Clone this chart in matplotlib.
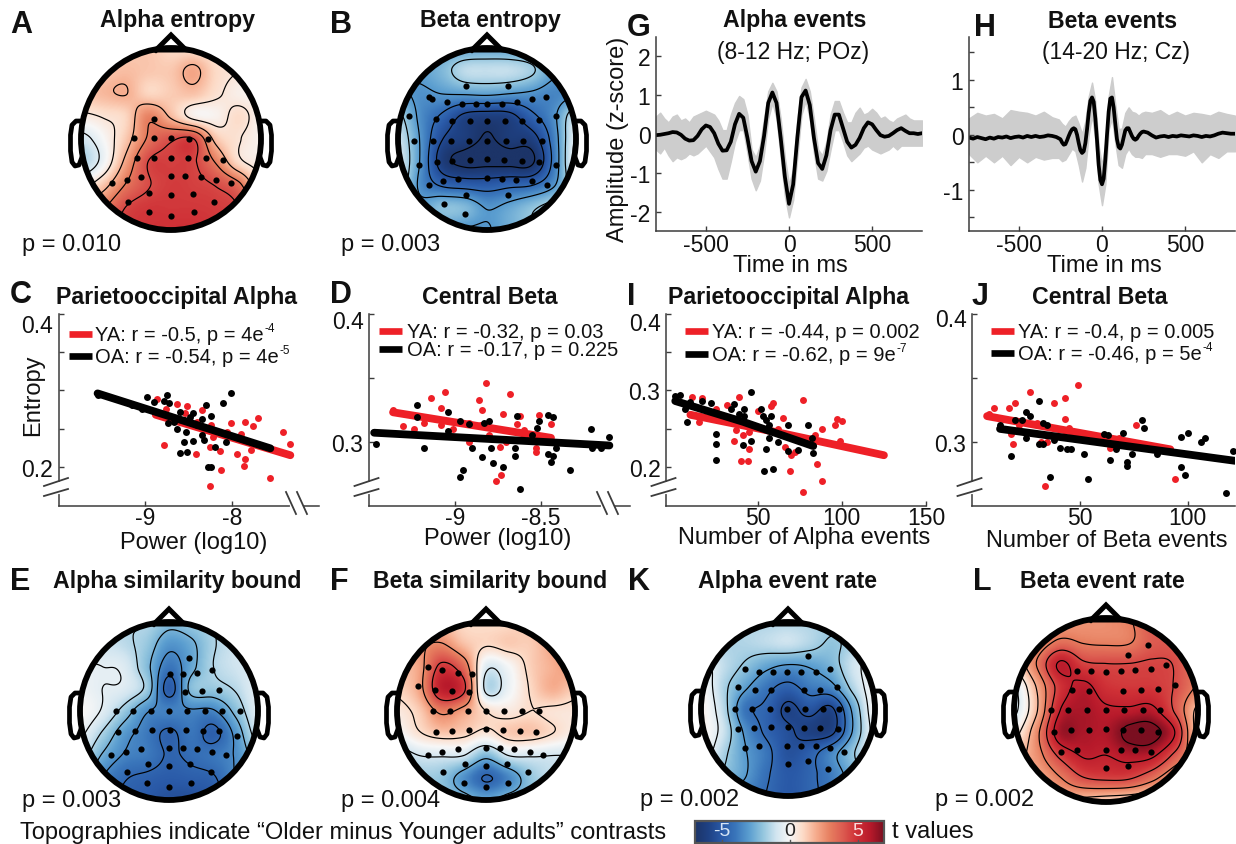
import numpy as np
import matplotlib
matplotlib.use('Agg')
import matplotlib.pyplot as plt
from matplotlib.colors import LinearSegmentedColormap
from matplotlib.patches import Ellipse, Rectangle
from matplotlib.transforms import ScaledTranslation

plt.rcParams['font.family'] = ['Liberation Sans', 'DejaVu Sans']

W, H = 1236, 845

#####################
# t value maps, 9x9, front row first, left to right
#####################
map_a = [[1.3, 1.3, 1.3, 1.4, 1.0, .9, .7, .5, .4],
         [1.2, 1.4, 1.6, 1.4, 1.4, 2.1, 1.0, .6, .3],
         [1.4, 1.7, 1.9, 1.1, 1.3, 1.5, .8, .3, .2],
         [.4, .7, 1.1, 2.9, 1.7, .3, .2, .9, .2],
         [-1, 0, 1.4, 3.3, 4.2, 4.4, 1.5, .7, .2],
         [-1.6, -.2, 2.2, 4.4, 4.6, 4.5, 3, .9, .3],
         [.2, 1.4, 3.2, 4.3, 4.7, 4.6, 4.3, 3.4, .9],
         [2, 3, 4.4, 4.8, 4.8, 4.8, 4.7, 4.4, 3],
         [3, 4, 4.7, 4.9, 5, 5, 4.8, 4.4, 3]]
map_b = [[-3, -3, -2.9, -2.8, -2.7, -2.8, -2.9, -3, -3],
         [-3, -2.9, -2.3, -1.3, -1.2, -1.2, -1.7, -2.9, -3],
         [-2.9, -3.3, -3.1, -3.0, -2.9, -3.1, -3.3, -3.6, -3.3],
         [-1.6, -3.4, -4.6, -5.9, -6.2, -6.0, -4.7, -3.4, -1],
         [-1, -3.2, -5.6, -6.3, -7.0, -6.4, -6.2, -3.8, -.5],
         [-.8, -3.2, -6.3, -7.2, -7.2, -7.2, -7.1, -4.0, -.3],
         [-1, -3.4, -4.6, -4.9, -5.0, -4.7, -4.5, -3.3, -1],
         [-2, -2.8, -2.1, -2.3, -3.2, -2.8, -2.1, -1.4, -1],
         [-3, -3, -3, -3.2, -3.2, -2.6, -2, -1.4, -1]]
map_e = [[-1.3, -1.4, -1.5, -1.5, -2.2, -1.9, -1.5, -1, -.8],
         [-1, -1, -1.3, -1.9, -3.2, -2.7, -1.6, -1, -.7],
         [-.4, -.5, -.7, -2.2, -4.0, -2.8, -1.5, -1, -.7],
         [-.2, -.5, -.7, -1.8, -4.9, -2.2, -1.9, -1.4, -.5],
         [.1, -.6, -1.9, -3.4, -3.7, -3.6, -3.6, -2.2, -.6],
         [-.3, -1.6, -3.1, -3.9, -4.7, -4.0, -4.8, -3.2, -1],
         [-1, -2.6, -3.6, -3.9, -4.6, -4.3, -4.0, -3.4, -2],
         [-2, -3.5, -4.4, -4.7, -4.9, -4.8, -4.6, -3.5, -3],
         [-3, -4, -4.7, -5, -5.4, -5.4, -5, -4, -3]]
map_f = [[1.5, 1.8, 1.6, 1, .9, 1, 1.5, 2.4, 2.9],
         [1.6, 2.4, 2.8, 1.6, 1, 1.3, 1.3, 2.2, 3],
         [1.5, 2.2, 4.8, 3.5, -.6, -.1, 1.2, 1.9, 2.5],
         [1.1, 2.2, 5.7, 4.8, -1.2, -.3, 1.0, 1.9, 1.3],
         [.5, 1.3, 3, 2.2, .9, .5, .9, .7, .6],
         [-.1, .8, 1.4, 1.2, .6, 1.3, 1.4, .9, .3],
         [-1.5, -.9, -.8, -.9, -2.3, -.9, -.8, -.9, -.9],
         [-2, -1.8, -2, -3.3, -4.6, -3.6, -2, -1.2, -1.2],
         [-2, -2, -2, -2.3, -2.9, -2.3, -2, -1.5, -1.5]]
map_k = [[-1.5, -1.5, -1.5, -1.5, -1.4, -1.5, -1.7, -1.5, -.5],
         [-1, -1.5, -1.5, -1.3, -1.1, -1.5, -2, -1.5, -.5],
         [-.2, -1.2, -2, -2.8, -3.2, -3.0, -2.4, -1, -.2],
         [.2, -1.5, -2.9, -4.0, -4.7, -3.9, -3.5, -1.5, 0],
         [.3, -1.3, -4.0, -4.6, -5.9, -5.2, -5.8, -2.8, .1],
         [.3, -1, -3.3, -4.6, -5.4, -6.1, -6, -3, -.2],
         [.1, -1.5, -3, -4.0, -5.3, -4.8, -3.6, -2, -.2],
         [-1, -2, -3, -4.2, -5, -4.6, -3.8, -2.5, -1],
         [-2, -3, -3.7, -4.4, -5, -4.6, -4.0, -3, -2]]
map_l = [[2, 2, 2.2, 2.5, 2.6, 3, 4, 3.6, 3],
         [1.5, 2.2, 3.3, 3, 2.9, 3.0, 3.9, 3.9, 3.2],
         [1, 3.2, 5.8, 4.6, 4.4, 4.4, 4.5, 4.3, 3.1],
         [-.7, 2, 4.9, 5.9, 5.0, 4.8, 4.8, 4.3, 3],
         [-.9, 1.8, 5.6, 6.2, 5.8, 5.8, 5.9, 4.2, 1.6],
         [.2, 2.8, 6.3, 6.2, 6.1, 7.2, 7.3, 5.6, 1.4],
         [1.4, 2.6, 4.6, 5.7, 5.6, 6, 5.8, 4, 2],
         [2, 2, 3, 4.2, 4.5, 4.4, 3.4, 2, 1.2],
         [2, 2, 2, 1.5, 1.2, 1, .8, .8, 1]]

#####################
# significant electrodes, percent of head radius
#####################
elec_a = [(-19, 22), (-41, 1), (-19, 1), (0, 1), (20, 0), (41, 0), (-38, -21), (-19, -21), (0, -21), (19, -21),
          (39, -21), (58, -23), (-66, -48), (-49, -45), (-33, -42), (0, -41), (16, -41), (33, -42), (50, -45),
          (67, -48), (-24, -59), (0, -61), (24, -60), (-48, -69), (48, -69), (-25, -80), (0, -85), (26, -80)]
elec_b = [(-24, 58), (24, 58), (-65, 46), (-62, 44), (-45, 41), (-28, 39), (-12, 39), (0, 39), (17, 39), (34, 41),
          (50, 44), (66, 46), (-88, 25), (-57, 22), (-39, 20), (-19, 20), (0, 20), (20, 20), (39, 20), (58, 21),
          (78, 25), (-82, -2), (-61, -2), (-40, -2), (-20, -2), (0, -2), (21, -2), (41, -2), (62, -2), (-56, -25),
          (-39, -24), (-19, -23), (0, -22), (19, -23), (39, -24), (58, -25), (78, -29), (-76, -29), (-65, -50),
          (-50, -46), (-33, -44), (0, -43), (17, -44), (33, -45), (50, -46), (67, -50), (-24, -61), (24, -61),
          (-48, -71), (-25, -82)]
elec_e = [(23, 60), (1, 42), (16, 42), (32, 43), (48, 46), (18, 21), (37, 22), (56, 24), (-60, 0), (-40, 0), (-20, 0),
          (0, 0), (20, 0), (40, 0), (60, 0), (80, 0), (-57, -24), (-38, -22), (-19, -21), (1, -21), (19, -21),
          (38, -22), (56, -23), (76, -28), (-65, -49), (-48, -46), (-32, -43), (0, -42), (16, -42), (32, -43),
          (48, -46), (64, -49), (-24, -60), (0, -62), (24, -60), (-47, -69), (47, -69), (-25, -81), (0, -85), (25, -81)]
elec_f = [(-65, 49), (-49, 46), (-32, 43), (-16, 42), (-76, 28), (-57, 24), (-38, 22), (-19, 21), (-60, 0), (-41, 0),
          (-20, 0), (0, 0), (20, 0), (40, 0), (60, 0), (-56, -24), (-38, -22), (-19, -21), (0, -20), (19, -21),
          (38, -22), (56, -24), (-65, -49), (-49, -46), (-32, -43), (0, -42), (16, -42), (32, -43), (49, -46),
          (64, -49), (-24, -60), (0, -62), (24, -60), (-48, -69), (47, -69), (-25, -81), (0, -85), (25, -81)]
elec_k = [(23, 61), (-49, 46), (-33, 43), (-17, 42), (-1, 42), (15, 42), (32, 43), (48, 46), (-58, 25), (-38, 22),
          (-19, 22), (18, 22), (37, 22), (56, 25), (-61, 0), (-41, 0), (-21, 0), (-1, 0), (19, 0), (40, 0), (59, 0),
          (-58, -23), (-39, -22), (-19, -21), (0, -21), (18, -22), (37, -22), (57, -23), (-50, -45), (-33, -43),
          (-1, -42), (15, -43), (32, -43), (48, -45), (64, -49), (0, -63), (23, -60), (46, -69)]
elec_l = [(46, 71), (24, 60), (-32, 42), (-16, 42), (0, 41), (16, 42), (32, 43), (49, 45), (65, 49), (-37, 22),
          (-19, 21), (19, 21), (38, 22), (57, 23), (75, 27), (-60, 0), (-41, 0), (-21, 0), (0, 0), (20, 0), (40, 0),
          (59, 0), (-57, -24), (-38, -22), (-19, -22), (0, -21), (18, -22), (38, -22), (56, -24), (-49, -46),
          (-32, -44), (0, -43), (16, -43), (32, -44), (49, -46), (0, -63), (24, -61)]

#####################
# event waveforms
#####################
g_time = np.arange(-800, 801, 25)
g_mean = [-.03, -.02, 0, .02, .05, .04, -.02, -.12, -.17, -.16, -.05, .12, .22, .18, .02, -.25, -.43, -.42, -.2, .25,
          .52, .42, -.1, -.7, -.97, -.7, -.05, .8, 1.07, .8, -.1, -1.1, -1.8, -1.3, -.1, .95, 1.12, .75, -.1, -.75,
          -.9, -.55, .1, .5, .5, .15, -.2, -.35, -.28, -.1, .15, .3, .25, .1, -.03, -.07, -.05, .02, .1, .15,
          .08, .02, .02, 0, .02]
g_upper = [.45, .55, .4, .3, .45, .5, .35, .4, .3, .45, .5, .55, .6, .55, .5, .35, .1, .1, .5, .8,
           .98, .9, .5, -.4, -.6, -.3, .4, 1.1, 1.32, 1.1, .4, -.6, -1.3, -.9, .4, 1.2, 1.42, 1.1, .4, -.4,
           -.55, -.2, .5, .85, .85, .55, .3, .3, .55, .68, .5, .55, .65, .55, .4, .45, .35, .3, .4, .45,
           .5, .4, .35, .35, .35]
g_lower = [-.4, -.5, -.35, -.55, -.7, -.6, -.65, -.6, -.5, -.55, -.5, -.4, -.3, -.45, -.6, -.9, -1.15, -1.15, -.7, -.2,
           .1, .1, -.5, -1.15, -1.45, -1.2, -.5, .4, .8, .4, -.6, -1.6, -2.15, -1.7, -.6, .5, .85, .4, -.5, -1.15,
           -1.2, -.95, -.4, .1, .1, -.2, -.55, -.7, -.6, -.5, -.35, -.3, -.4, -.45, -.5, -.45, -.4, -.3, -.4, -.3,
           -.3, -.3, -.3, -.3, -.3]

h_time = np.r_[np.arange(-800, -274, 25), np.arange(-250, 251, 10), np.arange(275, 801, 25)]
h_mean = [-.05, -.07, -.04, -.06, -.08, -.05, -.07, -.04, -.05, -.03, -.06, -.04, -.03, -.05, -.02, -.04, -.02, -.04,
          -.03, -.01, -.02, -.04,
          -.08, -.14, -.18, -.17, -.1, -.02, .05, .1, .12, .1, 0, -.15, -.28, -.33, -.3, -.15, .1, .4, .62, .68, .6,
          .3, -.1, -.55, -.82, -.9, -.8, -.45, 0, .42, .66, .68, .5, .2, -.08, -.22, -.25, -.18, -.05, .08, .12, .12,
          .05, -.02, -.07, -.09, -.07, -.02, .02, .05, .06,
          .04, -.01, -.05, -.03, -.02, -.04, -.02, -.03, -.01, -.02, -.03, -.01, -.02, -.04, -.02, -.03, -.01, .02,
          .04, .03, .02, .02]
h_band_time = np.r_[np.arange(-800, -299, 50), np.arange(-260, 261, 20), np.arange(300, 801, 50)]
h_upper = [.3, .4, .35, .38, .3, .45, .42, .4, .35, .42, .32,
           .28, .2, .15, .25, .32, .35, .2, .02, .25, .7, .95, .6, -.2, -.55, -.15, .7, 1.05, .55, .1, .12, .4, .5,
           .42, .4, .35, .4, .42,
           .4, .45, .35, .42, .35, .4, .38, .35, .42, .38, .35]
h_lower = [-.35, -.5, -.38, -.5, -.38, -.55, -.4, -.5, -.4, -.45, -.42,
           -.42, -.48, -.45, -.35, -.25, -.3, -.55, -.85, -.6, 0, .35, -.1, -.9, -1.28, -.9, .1, .3, -.15, -.55, -.6,
           -.35, -.25, -.35, -.4, -.4, -.42, -.35,
           -.35, -.4, -.35, -.35, -.38, -.3, -.5, -.35, -.42, -.3, -.3]

#####################
# scatter panels
#####################
c_ya_x = [-8.87, -8.78, -8.63, -8.52, -8.35, -8.42, -8.13, -8.25, -8.01, -7.85, -7.7, -7.76, -7.9, -8.06, -8.22, -8.14,
          -7.95, -7.85, -7.86, -7.78, -7.56, -7.41, -7.33, -8.4, -8.54, -7.95, -8.26, -8.67, -8.76, -8.24]
c_ya_y = [.289, .229, .282, .279, .274, .217, .196, .175, .257, .259, .264, .253, .243, .246, .239, .221,
          .216, .21, .201, .222, .185, .246, .23, .259, .27, .237, .226, .263, .276, .254]
c_oa_x = [-9.55, -9.15, -9.04, -8.98, -8.9, -8.75, -8.79, -8.73, -8.01, -8.11, -8.3, -8.45, -8.24, -8.56, -8.63, -8.53,
          -8.45, -8.55, -8.6, -8.52, -8.28, -8.24, -8.35, -8.33, -8.2, -8.07, -8.74, -8.67, -8.4, -8.49, -8.35, -8.6]
c_oa_y = [.294, .281, .276, .291, .285, .294, .286, .283, .297, .283, .281, .27, .267, .261, .25, .245,
          .233, .232, .218, .219, .199, .199, .241, .235, .226, .232, .257, .259, .254, .265, .263, .272]
c_ya_fit_x = [-8.88, -7.33]
c_ya_fit_y = [.268, .215]
c_oa_fit_x = [-9.55, -7.56]
c_oa_fit_y = [.296, .224]

d_ya_x = [-9.36, -9.3, -9.24, -9.14, -9.06, -9.08, -9.18, -9.08, -9.01, -8.82, -8.86, -8.84, -8.68, -8.72, -8.92, -8.92,
          -8.64, -8.62, -8.51, -8.44, -8.74, -8.72, -8.7, -8.73, -8.76, -8.53, -8.53, -8.85, -8.8, -8.6]
d_ya_y = [.325, .312, .31, .334, .339, .326, .315, .313, .31, .346, .333, .325, .337, .322, .3, .315,
          .314, .32, .321, .314, .296, .302, .3, .274, .269, .292, .295, .313, .305, .309]
d_oa_x = [-9.46, -9.22, -9.22, -9.18, -9.04, -9.04, -8.97, -8.92, -8.9, -8.97, -8.95, -8.84, -8.78, -8.72, -8.79, -8.83,
          -8.8, -8.65, -8.65, -8.64, -8.62, -8.55, -8.51, -8.46, -8.43, -8.46, -8.43, -8.44, -8.41, -8.33, -8.21, -8.1,
          -8.2, -8.15, -8.52]
d_oa_y = [.298, .329, .319, .295, .323, .308, .316, .314, .295, .272, .278, .288, .283, .28, .295, .315,
          .316, .295, .289, .32, .263, .305, .316, .321, .319, .29, .289, .284, .295, .278, .31, .304,
          .295, .295, .311]
d_ya_fit_x = [-9.36, -8.44]
d_ya_fit_y = [.323, .303]
d_oa_fit_x = [-9.47, -8.1]
d_oa_fit_y = [.307, .297]

i_ya_x = [11, 17, 32, 39, 25, 36, 37, 41, 45, 45, 40, 44, 50, 58, 59, 62, 65, 66, 70, 69, 77, 77, 85, 88, 88, 96, 97,
          100, 99, 84, 72, 15]
i_ya_y = [.291, .29, .281, .291, .276, .234, .248, .241, .246, .223, .207, .208, .273, .279, .283, .25, .264, .226,
          .215, .195, .287, .167, .204, .181, .25, .255, .262, .26, .233, .241, .219, .259]
i_oa_x = [1, 4, 7, 8, 10, 17, 22, 25, 25, 25, 34, 36, 42, 39, 42, 46, 46, 41, 52, 53, 55, 58, 57, 57, 55, 54, 59, 62,
          68, 68, 74, 80, 82, 83]
i_oa_y = [.293, .294, .276, .258, .285, .286, .284, .243, .23, .209, .276, .282, .275, .269, .267, .298, .233, .228,
          .276, .266, .261, .267, .254, .238, .223, .195, .197, .232, .221, .254, .222, .255, .238, .218]
i_ya_fit_x = [10, 66, 125]
i_ya_fit_y = [.268, .243, .215]
i_oa_fit_x = [1, 41, 83]
i_oa_fit_y = [.286, .259, .227]

j_ya_x = [8, 10, 17, 20, 27, 43, 49, 38, 43, 19, 18, 22, 32, 35, 34, 76, 94, 64, 68, 45, 30]
j_ya_y = [.322, .326, .326, .33, .339, .334, .344, .33, .318, .298, .306, .313, .3, .3, .265, .313, .271, .295, .303,
          .311, .315]
j_oa_x = [13, 18, 20, 23, 25, 27, 31, 25, 31, 33, 33, 35, 36, 38, 41, 44, 46, 52, 54, 61, 63, 64, 67, 70, 72, 72, 74,
          79, 80, 86, 97, 97, 99, 100, 106, 108, 118, 121]
j_oa_y = [.313, .289, .317, .317, .323, .32, .332, .303, .298, .315, .298, .313, .272, .301, .295, .294, .294, .29,
          .271, .306, .305, .286, .294, .307, .284, .281, .29, .317, .311, .29, .304, .28, .274, .307, .3, .303, .26,
          .293]
j_ya_fit_x = [7, 92]
j_ya_fit_y = [.32, .294]
j_oa_fit_x = [13, 122]
j_oa_fit_y = [.31, .285]

colorbar_ticks = [-5, 0, 5]

RED = '#ee2027'
TXT = '#111111'
AX = '#3c3c3c'
LEVELS_STD = np.arange(-6.875, 7, 1.25)
LEVELS_E = [-4.5, -3.5, -2.5, -1.5, -.5]
LEVELS_F = np.arange(-4.5, 5, 1.8)

tcmap = LinearSegmentedColormap.from_list('tvals', [
    (0 / 14, '#1c3468'), (1 / 14, '#1f4285'), (2 / 14, '#2a5aa8'), (3 / 14, '#3a76bb'), (4 / 14, '#5b9ed0'),
    (5 / 14, '#92c5de'), (6 / 14, '#d1e5f0'), (7 / 14, '#f7f7f7'), (8 / 14, '#fddbc7'), (9 / 14, '#f6ab8c'),
    (10 / 14, '#e77f60'), (11 / 14, '#dc5a50'), (12 / 14, '#cf3036'), (13 / 14, '#b81a2b'), (14 / 14, '#7a0f20')])

fig = plt.figure(figsize=(W / 100, H / 100), dpi=100)


def new_axes(left, top, right, bottom, xpad=0):
    ax = fig.add_axes([left / W, 1 - bottom / H, (right - left) / W, (bottom - top) / H])
    ax.patch.set_alpha(0)
    for s in ['top', 'right']:
        ax.spines[s].set_visible(False)
    for s in ['left', 'bottom']:
        ax.spines[s].set_color(AX)
        ax.spines[s].set_linewidth(1.1)
    ax.tick_params(direction='in', length=3.5, width=1, color=AX, labelsize=16.5, labelcolor=TXT, pad=4)
    ax.tick_params(axis='x', pad=xpad)
    return ax


def upsample(grid, n=220):
    # catmull-rom weights, no scipy here
    grid = np.asarray(grid, float)

    def weights(size):
        u = np.linspace(0, size - 1, n)
        i = np.clip(np.floor(u).astype(int), 0, size - 2)
        t = u - i
        out = np.zeros((n, size))
        w = [-.5 * t**3 + t**2 - .5 * t, 1.5 * t**3 - 2.5 * t**2 + 1, -1.5 * t**3 + 2 * t**2 + .5 * t, .5 * t**3 - .5 * t**2]
        for k in range(4):
            np.add.at(out, (np.arange(n), np.clip(i + k - 1, 0, size - 1)), w[k])
        return out

    return weights(grid.shape[0]) @ grid @ weights(grid.shape[1]).T


def topo(ax, grid, elec, cx, cy, rx, ry, levels=LEVELS_STD):
    z = upsample(grid)
    clip = Ellipse((cx, cy), 2 * rx, 2 * ry, fc='none', ec='none')
    ax.add_patch(clip)
    im = ax.imshow(z, extent=(cx - rx, cx + rx, cy + ry, cy - ry), cmap=tcmap, vmin=-7, vmax=7, aspect='auto',
                   interpolation='bilinear', zorder=1)
    im.set_clip_path(clip)
    xx = np.linspace(cx - rx, cx + rx, z.shape[1])
    yy = np.linspace(cy - ry, cy + ry, z.shape[0])
    cs = ax.contour(xx, yy, z, levels=levels, colors='k', linewidths=0.85, negative_linestyles='solid', zorder=2)
    cs.set_clip_path(clip)
    ex = [cx + p[0] / 100 * rx for p in elec]
    ey = [cy - p[1] / 100 * ry for p in elec]
    ax.scatter(ex, ey, s=20, color='k', lw=0, zorder=3)
    ax.add_patch(Ellipse((cx, cy), 2 * rx, 2 * ry, fc='none', ec='k', lw=4.2, zorder=4))
    # nose and ears
    ax.plot([cx - 15, cx, cx + 15, cx - 15], [cy - ry + 2, cy - ry - 13, cy - ry + 2, cy - ry + 2], color='k', lw=3.6,
            solid_joinstyle='miter', zorder=3.5)
    for sgn in [-1, 1]:
        ax.plot(cx + sgn * np.array([rx - 1, rx + 5, rx + 9, rx + 10.5, rx + 10.5, rx + 9, rx + 6, rx + 2, rx - 1]),
                cy + np.array([-18, -18, -14, -4, 12, 23, 27, 26, 18]), color='k', lw=3.4,
                solid_joinstyle='round', zorder=3.5)


def scatter_panel(ax, ya_x, ya_y, oa_x, oa_y, ya_fx, ya_fy, oa_fx, oa_fy):
    ax.scatter(ya_x, ya_y, s=25, color=RED, lw=0, zorder=2, clip_on=False)
    ax.plot(ya_fx, ya_fy, color=RED, lw=5.6, solid_capstyle='round', zorder=3)
    ax.scatter(oa_x, oa_y, s=25, color='k', lw=0, zorder=4, clip_on=False)
    ax.plot(oa_fx, oa_fy, color='k', lw=5.6, solid_capstyle='round', zorder=5)


def shift_top_ylabel(ax, dy):
    off = ScaledTranslation(0, -dy / 100, fig.dpi_scale_trans)
    lab = ax.get_yticklabels()[-1]
    lab.set_transform(lab.get_transform() + off)


#####################
# waveforms
#####################
ax_g = new_axes(656, 38, 922, 232, xpad=1.5)
ax_g.fill_between(g_time, g_lower, g_upper, color='#cdcdcd', lw=1)
ax_g.plot(g_time, g_mean, color='k', lw=2.7)
ax_g.set_xlim(-800, 800)
ax_g.set_ylim(-2.5, 2.5)
ax_g.set_xticks([-500, 0, 500], ['-500', '0', '500'])
ax_g.set_yticks([-2, -1, 0, 1, 2], ['-2', '-1', '0', '1', '2'])

ax_h = new_axes(969, 38, 1235, 232, xpad=1.5)
ax_h.fill_between(h_band_time, h_lower, h_upper, color='#cdcdcd', lw=1)
ax_h.plot(h_time, h_mean, color='k', lw=2.7)
ax_h.set_xlim(-800, 800)
ax_h.set_ylim(-1.75, 1.78)
ax_h.set_xticks([-500, 0, 500], ['-500', '0', '500'])
ax_h.set_yticks([-1.5, -1, -.5, 0, .5, 1, 1.5], ['', '-1', '', '0', '', '1', ''])

#####################
# scatters
#####################
ax_c = new_axes(58.5, 315, 319, 507)
scatter_panel(ax_c, c_ya_x, c_ya_y, c_oa_x, c_oa_y, c_ya_fit_x, c_ya_fit_y, c_oa_fit_x, c_oa_fit_y)
ax_c.set_xlim(-10, -7)
ax_c.set_ylim(.1485, .4)
ax_c.set_xticks([-9, -8], ['-9', '-8'])
ax_c.set_yticks([.2, .25, .3, .35, .4], ['0.2', '', '', '', '0.4'])
shift_top_ylabel(ax_c, 9)

ax_d = new_axes(369, 315, 630, 507)
scatter_panel(ax_d, d_ya_x, d_ya_y, d_oa_x, d_oa_y, d_ya_fit_x, d_ya_fit_y, d_oa_fit_x, d_oa_fit_y)
ax_d.set_xlim(-9.5, -7.98)
ax_d.set_ylim(.2496, .4)
ax_d.set_xticks([-9, -8.5], ['-9', '-8.5'])
ax_d.set_yticks([.3, .35, .4], ['0.3', '', '0.4'])
shift_top_ylabel(ax_d, 5)

ax_i = new_axes(666, 315, 926, 507)
scatter_panel(ax_i, i_ya_x, i_ya_y, i_oa_x, i_oa_y, i_ya_fit_x, i_ya_fit_y, i_oa_fit_x, i_oa_fit_y)
ax_i.set_xlim(-4.5, 150)
ax_i.set_ylim(.1485, .4)
ax_i.set_xticks([50, 100, 150])
ax_i.set_yticks([.2, .25, .3, .35, .4], ['0.2', '', '0.3', '', '0.4'])
shift_top_ylabel(ax_i, 7)

ax_j = new_axes(972, 315, 1235, 507)
scatter_panel(ax_j, j_ya_x, j_ya_y, j_oa_x, j_oa_y, j_ya_fit_x, j_ya_fit_y, j_oa_fit_x, j_oa_fit_y)
ax_j.set_xlim(0, 122)
ax_j.set_ylim(.2496, .4)
ax_j.set_xticks([50, 100])
ax_j.set_yticks([.3, .35, .4], ['0.3', '', '0.4'])
shift_top_ylabel(ax_j, 3)

#####################
# overlay in picture pixels: heads, text, axis breaks
#####################
ov = fig.add_axes([0, 0, 1, 1], zorder=10)
ov.axis('off')

topo(ov, map_a, elec_a, 171, 140, 90, 91)
topo(ov, map_b, elec_b, 487, 140, 89, 91)
topo(ov, map_e, elec_e, 169, 712, 89, 89, levels=LEVELS_E)
topo(ov, map_f, elec_f, 486, 712, 89, 89, levels=LEVELS_F)
topo(ov, map_k, elec_k, 788, 710, 87, 87)
topo(ov, map_l, elec_l, 1106, 711, 92, 92)

# colour bar
cb_vals = np.linspace(-7, 7, 256)[None, :]
ov.imshow(cb_vals, extent=(695, 884, 844, 822), cmap=tcmap, vmin=-7, vmax=7, aspect='auto', zorder=1)
ov.add_patch(Rectangle((695, 822), 189, 22, fc='none', ec='#555555', lw=1.6, zorder=2))
for v, col in zip(colorbar_ticks, ['#d5e4f5', '#222222', '#fbdcdc']):
    xp = 790 + v * 13.6
    ov.text(xp, 832, str(v), color=col, fontsize=14, ha='center', va='center', zorder=3)
    ov.plot([xp, xp], [844, 841], color='#555555', lw=1, zorder=3)

ov.set_xlim(0, W)
ov.set_ylim(H, 0)


def label(x, y, s, size=17, ha='center', weight='normal', **kw):
    return ov.text(x, y, s, fontsize=size, ha=ha, va='center', color=TXT, fontweight=weight, **kw)


for s, x, y in [('A', 10, 25), ('B', 330, 25), ('G', 627, 28), ('H', 974, 28),
                ('C', 10, 295), ('D', 330, 295), ('I', 627, 297), ('J', 972, 297),
                ('E', 10, 582), ('F', 330, 582), ('K', 628, 582), ('L', 973, 582)]:
    label(x, y, s, size=22, ha='left', weight='bold')

for s, x, y in [('Alpha entropy', 177, 21), ('Beta entropy', 490, 21), ('Alpha events', 795, 21),
                ('Beta events', 1113, 21), ('Parietooccipital Alpha', 177, 298), ('Central Beta', 490, 298),
                ('Parietooccipital Alpha', 788, 298), ('Central Beta', 1100, 298),
                ('Alpha similarity bound', 177, 582), ('Beta similarity bound', 490, 582),
                ('Alpha event rate', 788, 582), ('Beta event rate', 1102, 582)]:
    label(x, y, s, size=16.7, weight='bold')

label(793, 52, '(8-12 Hz; POz)', size=16.5)
label(1116, 52, '(14-20 Hz; Cz)', size=16.5)

for s, x, y in [('p = 0.010', 22, 245), ('p = 0.003', 341, 245), ('p = 0.003', 22, 801), ('p = 0.004', 341, 801),
                ('p = 0.002', 640, 800), ('p = 0.002', 935, 800)]:
    label(x, y, s, ha='left')

label(790, 266, 'Time in ms')
label(1104, 266, 'Time in ms')
label(194, 543, 'Power (log10)')
label(498, 539, 'Power (log10)')
label(804, 538, 'Number of Alpha events')
label(1107, 541, 'Number of Beta events')
label(33, 395, 'Entropy', rotation=90)
label(618, 139, 'Amplitude (z-score)', rotation=90)
label(20, 833, 'Topographies indicate \u201cOlder minus Younger adults\u201d contrasts', ha='left')
label(892, 832, 't values', ha='left')

legends = [(69, 95, 335, 357, 'YA: r = -0.5, p = 4e', '-4', 'OA: r = -0.54, p = 4e', '-5'),
           (379, 407, 332, 350, 'YA: r = -0.32, p = 0.03', '', 'OA: r = -0.17, p = 0.225', ''),
           (685, 712, 332, 355, 'YA: r = -0.44, p = 0.002', '', 'OA: r = -0.62, p = 9e', '-7'),
           (991, 1018, 332, 354, 'YA: r = -0.4, p = 0.005', '', 'OA: r = -0.46, p = 5e', '-4')]
for x0, xt, y1, y2, s1, e1, s2, e2 in legends:
    ov.plot([x0, x0 + 23], [y1, y1], color=RED, lw=4.8, solid_capstyle='butt')
    ov.plot([x0, x0 + 23], [y2, y2], color='k', lw=4.8, solid_capstyle='butt')
    for yy, s, e in [(y1, s1, e1), (y2, s2, e2)]:
        t = label(xt, yy + 1, s, size=14.5, ha='left')
        if e:
            ov.annotate(e, xy=(1, 1), xycoords=t, xytext=(.3, -2), textcoords='offset points', fontsize=8.5,
                        ha='left', va='center', color=TXT)

# axis breaks
for ax_x in [58.5, 369, 666, 972]:
    ov.plot([ax_x, ax_x], [485, 493], color='white', lw=3)
    ov.plot([ax_x - 14.5, ax_x + 9.5], [487, 479], color=AX, lw=1.3)
    ov.plot([ax_x - 14.5, ax_x + 9.5], [497, 490], color=AX, lw=1.3)
for x0 in [286, 597]:
    ov.plot([x0 + 6, x0 + 15], [507, 507], color='white', lw=3)
    ov.plot([x0, x0 + 10], [493, 515], color=AX, lw=1.3)
    ov.plot([x0 + 11, x0 + 21], [493, 515], color=AX, lw=1.3)

fig.savefig('out.png', dpi=100)
